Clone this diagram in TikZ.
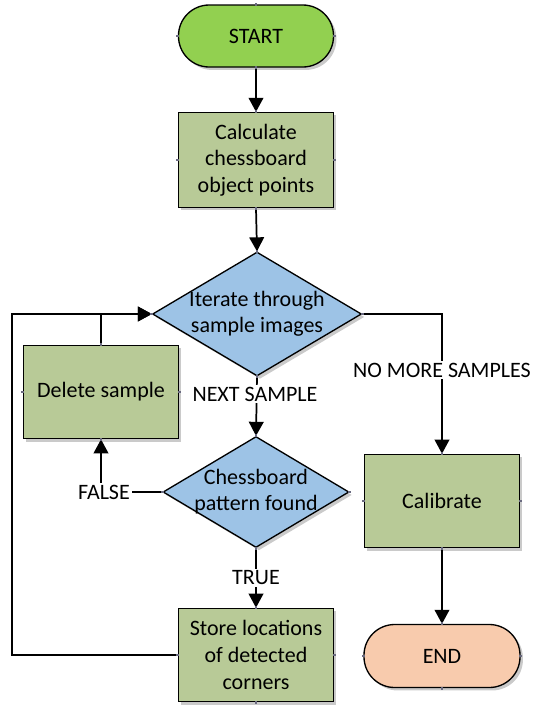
\documentclass[tikz,border=0pt]{standalone}
\usepackage{fontspec}
\setmainfont{Carlito}
\usetikzlibrary{arrows.meta,shapes.geometric,shadows}
\definecolor{startgreen}{HTML}{92D050}
\definecolor{boxgreen}{HTML}{B8CA97}
\definecolor{diablue}{HTML}{9DC3E6}
\definecolor{endorange}{HTML}{F8CBAD}
\definecolor{cpgray}{HTML}{6A6A80}
\tikzset{
  shad/.style={drop shadow={shadow xshift=2.2pt,shadow yshift=-2.2pt,opacity=0.35,fill=black!60}},
  term/.style={draw=black,line width=1pt,rectangle,rounded corners=23pt,minimum width=116.25pt,minimum height=46.5pt,shad,font=\fontsize{16.5pt}{20pt}\selectfont},
  procbox/.style={draw=black,line width=1pt,rectangle,fill=boxgreen,minimum width=116.25pt,minimum height=70pt,align=center,inner sep=0pt,shad,font=\fontsize{16.5pt}{20pt}\selectfont},
  decide/.style={draw=black,line width=1pt,diamond,fill=diablue,inner sep=0pt,shad},
  dtext/.style={align=center,inner sep=0pt,font=\fontsize{16.5pt}{19.5pt}\selectfont},
  lbl/.style={fill=white,inner sep=1.5pt,font=\fontsize{16.5pt}{18pt}\selectfont},
  arr/.style={line width=1.3pt,-{Triangle[width=11pt,length=10.5pt]}},
  ln/.style={line width=1.3pt},
}
\newcommand{\cpts}[1]{%
  \foreach \a in {north,south,east,west}{\fill[cpgray] (#1.\a) ++(-1.1pt,-1.1pt) rectangle ++(2.2pt,2.2pt);}}
\begin{document}
\begin{tikzpicture}[x=0.75pt,y=-0.75pt]
\useasboundingbox (0,0) rectangle (538,715);
% nodes
\node[term,fill=startgreen] (start) at (256,36) {START};
\node[procbox,minimum height=71.25pt] (calc) at (256,160) {Calculate\\chessboard\\object points};
\node[decide,minimum width=156.75pt,minimum height=93pt] (d1) at (257,314) {};
\node[dtext] (d1t) at (257,314) {Iterate through\\sample images};
\node[procbox] (del) at (101,392) {Delete sample};
\node[decide,minimum width=139.5pt,minimum height=83.25pt] (d2) at (256,492) {};
\node[dtext] (d2t) at (256,492) {Chessboard\\pattern found};
\node[procbox] (store) at (256,655) {Store locations\\of detected\\corners};
\node[procbox] (cal) at (442,501) {Calibrate};
\node[term,fill=endorange,minimum width=117pt,minimum height=47.25pt] (end) at (442,656) {END};
\coordinate (loopc) at (12,314);
% connectors
\draw[arr] (start.south) -- (calc.north);
\draw[arr] (calc.south) -- (d1.north);
\draw[arr] (d1.south) -- (d2.north);
\draw[arr] (d2.south) -- (store.north);
\draw[arr] (d2.west) -| (del.south);
\draw[arr] (del.north) |- (d1.west);
\draw[arr] (store.west) -| (loopc) -- (d1.west);
\draw[arr] (d1.east) -| (cal.north);
\draw[arr] (cal.south) -- (end.north);
% labels
\node[lbl] (nexts) at (255,394) {NEXT SAMPLE};
\node[lbl] (falsel) at (104,492) {FALSE};
\node[lbl] (truel) at (256,578) {TRUE};
\node[lbl] (nomore) at (442,370) {NO MORE SAMPLES};
% connection points
\cpts{start}\cpts{calc}\cpts{d1}\cpts{del}\cpts{d2}\cpts{store}\cpts{cal}\cpts{end}
\end{tikzpicture}
\end{document}
